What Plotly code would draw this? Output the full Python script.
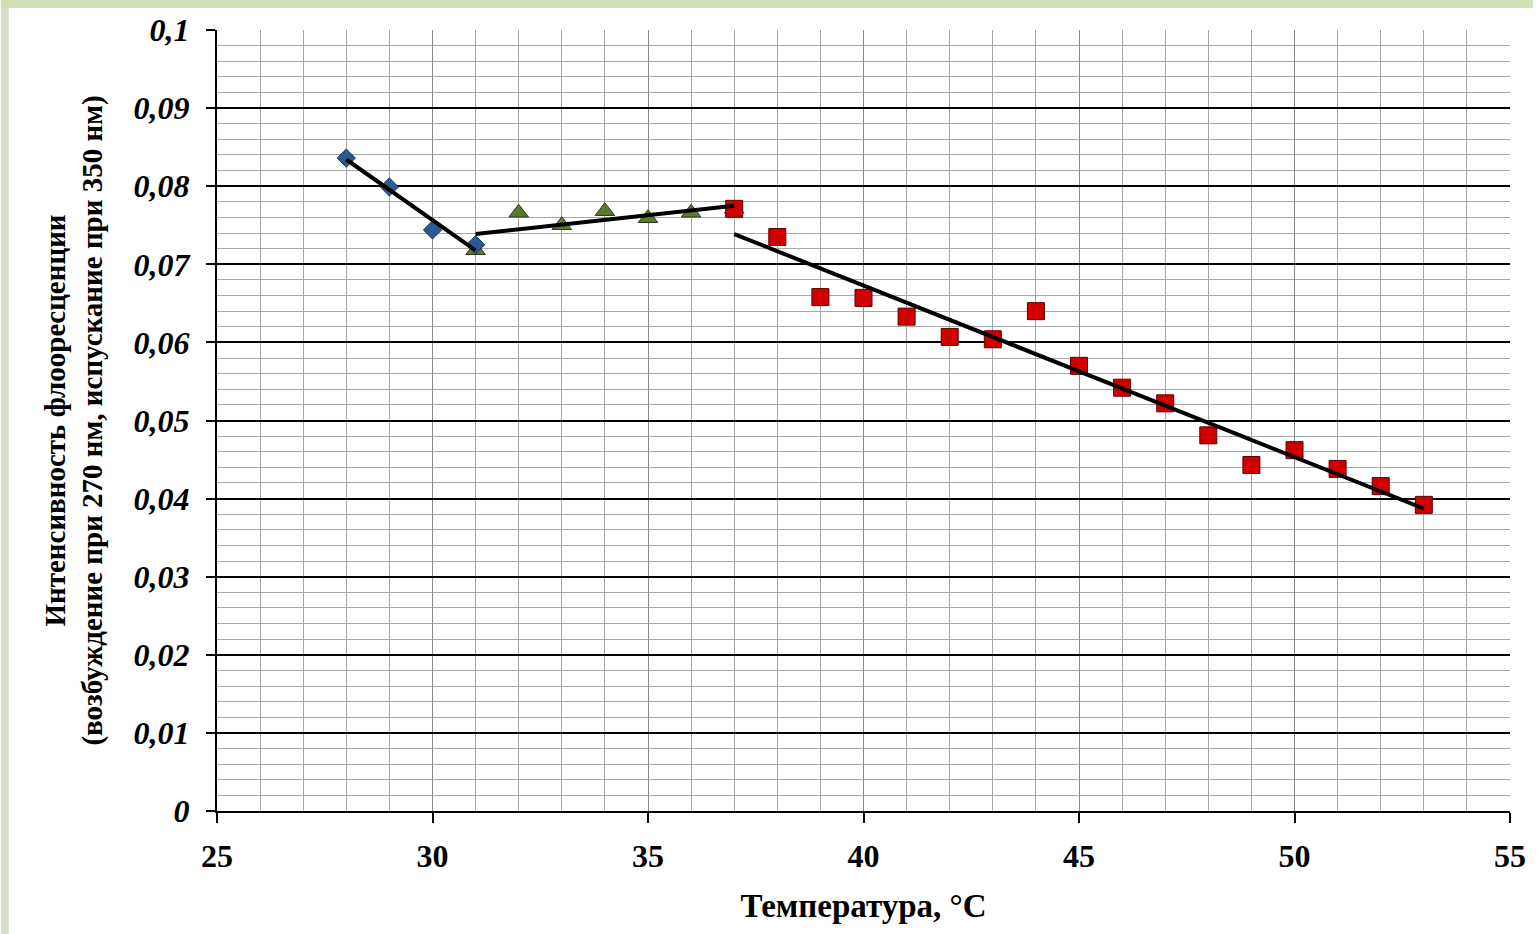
import numpy as np
import plotly.graph_objects as go

# ---- data ----
x_blue = [28, 29, 30, 31]
y_blue = [0.0836, 0.0799, 0.0744, 0.0725]

x_green = [31, 32, 33, 34, 35, 36, 37]
y_green = [0.0718, 0.0766, 0.0750, 0.0768, 0.0759, 0.0766, 0.0771]

x_red = [37, 38, 39, 40, 41, 42, 43, 44, 45, 46, 47, 48, 49, 50, 51, 52, 53]
y_red = [0.0771, 0.0735, 0.0658, 0.0657, 0.0633, 0.0607, 0.0604, 0.0640, 0.0570,
         0.0542, 0.0522, 0.0481, 0.0443, 0.0462, 0.0438, 0.0416, 0.0392]

x_ticks = [25, 30, 35, 40, 45, 50, 55]
x_ticklabels = ["25", "30", "35", "40", "45", "50", "55"]
y_ticks = [0, 0.01, 0.02, 0.03, 0.04, 0.05, 0.06, 0.07, 0.08, 0.09, 0.1]
y_ticklabels = ["0", "0,01", "0,02", "0,03", "0,04", "0,05", "0,06", "0,07", "0,08", "0,09", "0,1"]

x_title = "Температура, °C"
y_title = "Интенсивность флоореcценции<br>(возбуждение при 270 нм, испускание при 350 нм)"

FONT = "Liberation Serif"


def linfit(xs, ys):
    k, b = np.polyfit(xs, ys, 1)
    xe = [min(xs), max(xs)]
    return xe, [k * v + b for v in xe]


fig = go.Figure()

# trend lines (linear, like Excel trendlines)
for xs, ys in [(x_blue, y_blue), (x_green, y_green), (x_red, y_red)]:
    xe, ye = linfit(xs, ys)
    fig.add_trace(go.Scatter(x=xe, y=ye, mode="lines", line=dict(color="black", width=4),
                             showlegend=False, hoverinfo="skip", xaxis="x2", yaxis="y2"))

fig.add_trace(go.Scatter(x=x_green, y=y_green, mode="markers", showlegend=False,
                         marker=dict(symbol="triangle-up", size=17, color="#5a7a2c",
                                     line=dict(color="#2a3a14", width=1))))
fig.add_trace(go.Scatter(x=x_blue, y=y_blue, mode="markers", showlegend=False,
                         marker=dict(symbol="diamond", size=14, color="#2b5a95",
                                     line=dict(color="#17304f", width=1))))
fig.add_trace(go.Scatter(x=x_red, y=y_red, mode="markers", showlegend=False,
                         marker=dict(symbol="square", size=17, color="#d00000",
                                     line=dict(color="#5a0000", width=1))))

xr = [25, 55]
yr = [0, 0.1]

W, H = 1538, 934
ML, MR, MT, MB = 217, 23, 30, 123
PW, PH = W - ML - MR, H - MT - MB

fig.update_layout(
    width=W, height=H,
    margin=dict(l=ML, r=MR, t=MT, b=MB),
    paper_bgcolor="white", plot_bgcolor="white",
    font=dict(family=FONT, color="black"),
    xaxis=dict(
        range=xr, tickmode="array", tickvals=x_ticks, ticktext=x_ticklabels,
        showgrid=False, zeroline=False,
        showline=True, linecolor="black", linewidth=2,
        ticks="outside", ticklen=10, tickwidth=2, tickcolor="black",
        tickfont=dict(family=FONT, size=32, color="black", weight="bold"),
        ticklabelstandoff=6,
        minor=dict(dtick=1, tick0=25, showgrid=True, gridcolor="#a8a8a8", gridwidth=1.2, ticks=""),
        title=dict(text=x_title, font=dict(family=FONT, size=33, color="black", weight="bold"),
                   standoff=20),
    ),
    yaxis=dict(
        range=yr, tickmode="array", tickvals=y_ticks, ticktext=y_ticklabels,
        showgrid=False, zeroline=False,
        showline=True, linecolor="black", linewidth=2,
        ticks="outside", ticklen=9, tickwidth=2, tickcolor="black",
        tickfont=dict(family=FONT, size=32, color="black", weight="bold", style="italic"),
        ticklabelstandoff=10,
        minor=dict(dtick=0.002, tick0=0, showgrid=True, gridcolor="#a8a8a8", gridwidth=1.2, ticks=""),
        title=dict(text=y_title, font=dict(family=FONT, size=29, color="black", weight="bold"),
                   standoff=22),
    ),
    xaxis2=dict(
        range=xr, overlaying="x", tickmode="array", tickvals=[30, 35, 40, 45, 50],
        showgrid=True, gridcolor="#8a8a8a", gridwidth=1.2, showticklabels=False,
        ticks="", zeroline=False, showline=False,
    ),
    yaxis2=dict(
        range=yr, overlaying="y", tickmode="array",
        tickvals=[0.01, 0.02, 0.03, 0.04, 0.05, 0.06, 0.07, 0.08, 0.09],
        showgrid=True, gridcolor="black", gridwidth=2, showticklabels=False,
        ticks="", zeroline=False, showline=False,
    ),
    shapes=[
        dict(type="rect", xref="paper", yref="paper",
             x0=-ML / PW, x1=-(ML - 8) / PW, y0=-MB / PH, y1=1 + MT / PH,
             fillcolor="#d4dec9", line=dict(width=0), layer="above"),
        dict(type="rect", xref="paper", yref="paper",
             x0=-ML / PW, x1=1 + MR / PW, y0=1 + (MT - 8) / PH, y1=1 + MT / PH,
             fillcolor="#d3dfb5", line=dict(width=0), layer="above"),
    ],
)

fig.write_html("out.html", config={"displayModeBar": False},
               post_script="document.body.style.margin='0px';document.body.style.overflow='hidden';")
